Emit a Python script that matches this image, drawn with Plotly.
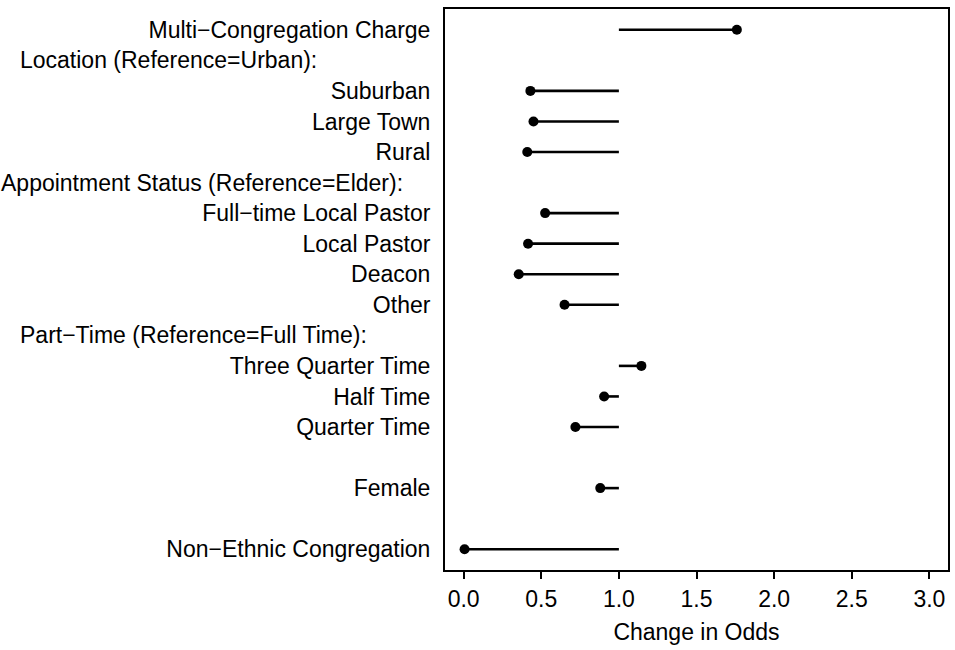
import plotly.graph_objects as go

# Row labels, top to bottom ("" = blank spacer row)
row_labels = [
    "Multi−Congregation Charge",
    "Location (Reference=Urban):",
    "Suburban",
    "Large Town",
    "Rural",
    "Appointment Status (Reference=Elder):",
    "Full−time Local Pastor",
    "Local Pastor",
    "Deacon",
    "Other",
    "Part−Time (Reference=Full Time):",
    "Three Quarter Time",
    "Half Time",
    "Quarter Time",
    "",
    "Female",
    "",
    "Non−Ethnic Congregation",
]
# Odds ratio estimate per row (None for headers / spacers)
odds = [1.76, None, 0.43, 0.45, 0.41, None, 0.525, 0.415, 0.355, 0.65,
        None, 1.145, 0.905, 0.72, None, 0.88, None, 0.006]
# Group header rows and where their text starts (pixels from left edge)
header_rows = [1, 5, 10]
header_left_px = [17.5, -1, 18]

reference_value = 1.0
x_ticks = [0.0, 0.5, 1.0, 1.5, 2.0, 2.5, 3.0]
x_tick_text = ["0.0", "0.5", "1.0", "1.5", "2.0", "2.5", "3.0"]

n = len(row_labels)
ypos = [n - i for i in range(n)]

FONT = "Liberation Sans, Arial, Helvetica, sans-serif"
FS = 23

seg_x, seg_y, pt_x, pt_y = [], [], [], []
for y, v in zip(ypos, odds):
    if v is None:
        continue
    seg_x += [reference_value, v, None]
    seg_y += [y, y, None]
    pt_x.append(v)
    pt_y.append(y)

fig = go.Figure()
fig.add_trace(go.Scatter(x=seg_x, y=seg_y, mode="lines",
                         line=dict(color="black", width=2.6),
                         hoverinfo="skip", showlegend=False))
fig.add_trace(go.Scatter(x=pt_x, y=pt_y, mode="markers",
                         marker=dict(color="black", size=10),
                         showlegend=False))

tick_y = [y for y, lab, v in zip(ypos, row_labels, odds) if v is not None]
tick_t = [lab for lab, v in zip(row_labels, odds) if v is not None]

L, R, T, B = 445, 7, 9, 80
W, H = 955, 650
pw = W - L - R

for r, px in zip(header_rows, header_left_px):
    fig.add_annotation(text=row_labels[r], x=(px - L) / pw, xref="paper",
                       y=ypos[r], yref="y", xanchor="left", yanchor="middle",
                       showarrow=False, font=dict(family=FONT, size=FS, color="black"))

fig.update_layout(
    width=W, height=H,
    margin=dict(l=L, r=R, t=T, b=B, autoexpand=False),
    paper_bgcolor="white", plot_bgcolor="white",
    font=dict(family=FONT, size=FS, color="black"),
    xaxis=dict(range=[-0.12, 3.12], tickvals=x_ticks, ticktext=x_tick_text,
               showgrid=False, zeroline=False, showline=True, linecolor="black",
               linewidth=2, mirror=True, ticks="outside", ticklen=7, tickwidth=1.5,
               tickcolor="black",
               title=dict(text="Change in Odds", standoff=13,
                          font=dict(family=FONT, size=FS))),
    yaxis=dict(range=[0.32, n + 0.68], tickvals=tick_y, ticktext=tick_t,
               showgrid=False, zeroline=False, showline=True, linecolor="black",
               linewidth=2, mirror=True, ticks="", ticklabelstandoff=8),
)

fig.write_html("out.html", config={"displayModeBar": False},
               post_script="document.body.style.margin='0';document.body.style.overflow='hidden';")
